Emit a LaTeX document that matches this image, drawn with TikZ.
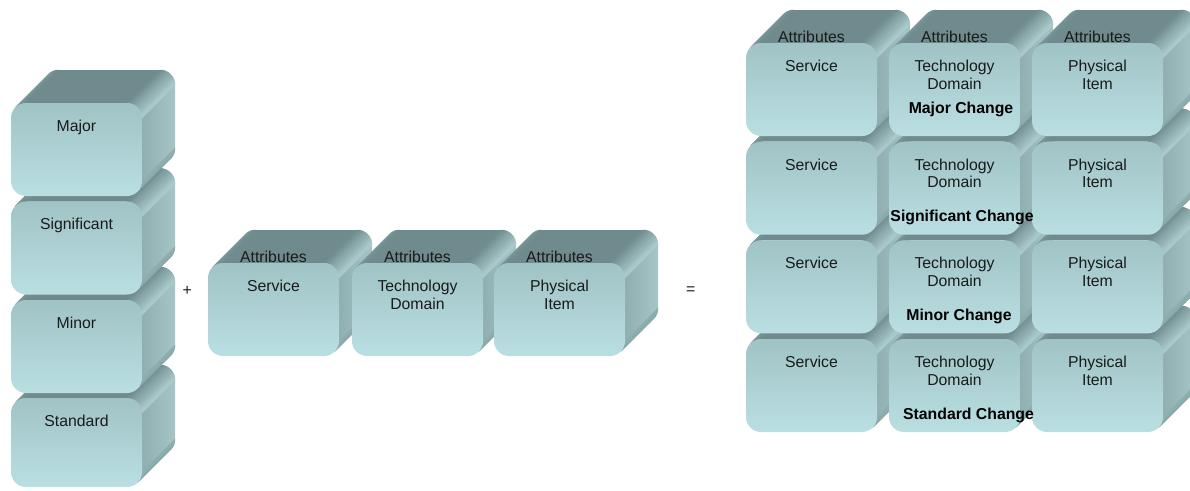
\documentclass[tikz,border=0pt]{standalone}
\usepackage{fontspec}
\setmainfont{Liberation Sans}

\definecolor{topdark}{HTML}{6F8B8D}
\definecolor{topedge}{HTML}{7E9B9D}
\definecolor{sidehi}{HTML}{A8C8CA}
\definecolor{sidenear}{HTML}{8FAFB1}
\definecolor{sidefar}{HTML}{A5C5C7}
\definecolor{sidelow}{HTML}{86A5A7}
\definecolor{fronttop}{HTML}{A0C3C5}
\definecolor{frontbot}{HTML}{BADFE2}
\definecolor{ink}{HTML}{1A1A1A}

\tikzset{
  lbl/.style={font=\fontsize{15.8}{17.6}\selectfont, align=center, anchor=north, inner sep=0pt, text=ink},
  attr/.style={font=\fontsize{15.8}{17.6}\selectfont, anchor=base, inner sep=0pt, text=ink},
  chg/.style={font=\fontsize{15.8}{17.6}\selectfont\bfseries, anchor=base, inner sep=0pt, text=black},
  op/.style={font=\fontsize{15.8}{17.6}\selectfont, inner sep=0pt, text=ink},
  facet/.style={fill=#1, draw=#1, line width=.5pt, line join=round},
}

% One extruded rounded block: front face top-left at (#1,#2), front height #3.
% Front face is 131 wide with 15 corner radius; depth goes 33 up and right.
\newcommand\block[3]{%
\begin{scope}[shift={(#1,#2)}]
  \def\hh{#3}
  % flat top face
  \fill[topdark] (15,0) -- (116,0) -- (149,-33) -- (48,-33) -- cycle;
  % flat side face
  \shade[left color=sidenear, right color=sidefar]
    (131,15) -- (164,-18) -- ({164},{\hh-48}) -- ({131},{\hh-15}) -- cycle;
  % rounded edge, top left
  \foreach \a in {90,95,...,130}{%
    \pgfmathtruncatemacro\p{(\a+2.5-90)/45*100}%
    \filldraw[facet=topedge!\p!topdark]
      ({15+15*cos(\a)},{15-15*sin(\a)}) -- ({15+15*cos(\a+5)},{15-15*sin(\a+5)})
      -- ({48+15*cos(\a+5)},{-18-15*sin(\a+5)}) -- ({48+15*cos(\a)},{-18-15*sin(\a)}) -- cycle;}
  % rounded edge, top right
  \foreach \a in {0,5,...,85}{%
    \pgfmathtruncatemacro\p{max(0,min(100,(\a+2.5-12)/78*100))}%
    \filldraw[facet=topdark!\p!sidehi]
      ({116+15*cos(\a)},{15-15*sin(\a)}) -- ({116+15*cos(\a+5)},{15-15*sin(\a+5)})
      -- ({149+15*cos(\a+5)},{-18-15*sin(\a+5)}) -- ({149+15*cos(\a)},{-18-15*sin(\a)}) -- cycle;}
  % rounded edge, bottom right
  \foreach \a in {-45,-40,...,-5}{%
    \pgfmathtruncatemacro\p{(\a+2.5+45)/45*100}%
    \filldraw[facet=sidenear!\p!sidelow]
      ({116+15*cos(\a)},{\hh-15-15*sin(\a)}) -- ({116+15*cos(\a+5)},{\hh-15-15*sin(\a+5)})
      -- ({149+15*cos(\a+5)},{\hh-48-15*sin(\a+5)}) -- ({149+15*cos(\a)},{\hh-48-15*sin(\a)}) -- cycle;}
  % front face
  \shade[top color=fronttop, bottom color=frontbot, rounded corners=15pt]
    (0,0) rectangle (131,\hh);
\end{scope}}

\begin{document}
\begin{tikzpicture}[x=1pt, y=-1pt]
\useasboundingbox (0,0) rectangle (1190,490);

% change levels, stacked
\block{11}{398}{89}
\block{11}{300}{93}
\block{11}{201.5}{93}
\block{11}{103}{93}

% attribute row
\block{208}{263}{93}
\block{352}{263}{93}
\block{494}{263}{93}

% combined grid, lowest row first
\foreach \t in {339,240.3,141.7,43}{
  \block{746}{\t}{93}
  \block{889}{\t}{93}
  \block{1032}{\t}{93}
}

% level labels
\node[lbl] (major) at (76.5,119.8) {Major};
\node[lbl] (significant) at (76.5,218.3) {Significant};
\node[lbl] (minor) at (76.5,316.8) {Minor};
\node[lbl] (standard) at (76.5,414.8) {Standard};

\node[op] (plus) at (187.3,290.7) {+};
\node[op] (equals) at (690.7,290.7) {=};

% attribute row labels
\node[attr] (a1) at (273.5,262) {Attributes};
\node[attr] (a2) at (417.5,262) {Attributes};
\node[attr] (a3) at (559.5,262) {Attributes};
\node[lbl] (svc) at (273.5,279.8) {Service};
\node[lbl] (tech) at (417.5,279.8) {Technology\\Domain};
\node[lbl] (phys) at (559.5,279.8) {Physical\\Item};

% grid labels
\node[attr] (ga1) at (811.5,42) {Attributes};
\node[attr] (ga2) at (954.5,42) {Attributes};
\node[attr] (ga3) at (1097.5,42) {Attributes};

\node[lbl] (s1) at (811.5,59.8) {Service};
\node[lbl] (t1) at (954.5,59.8) {Technology\\Domain};
\node[lbl] (p1) at (1097.5,59.8) {Physical\\Item};
\node[lbl] (s2) at (811.5,158.5) {Service};
\node[lbl] (t2) at (954.5,158.5) {Technology\\Domain};
\node[lbl] (p2) at (1097.5,158.5) {Physical\\Item};
\node[lbl] (s3) at (811.5,257.1) {Service};
\node[lbl] (t3) at (954.5,257.1) {Technology\\Domain};
\node[lbl] (p3) at (1097.5,257.1) {Physical\\Item};
\node[lbl] (s4) at (811.5,355.8) {Service};
\node[lbl] (t4) at (954.5,355.8) {Technology\\Domain};
\node[lbl] (p4) at (1097.5,355.8) {Physical\\Item};

\node[chg] (c1) at (961,113) {Major Change};
\node[chg] (c2) at (962,221.7) {Significant Change};
\node[chg] (c3) at (959,320.5) {Minor Change};
\node[chg] (c4) at (968.5,419) {Standard Change};
\end{tikzpicture}
\end{document}
